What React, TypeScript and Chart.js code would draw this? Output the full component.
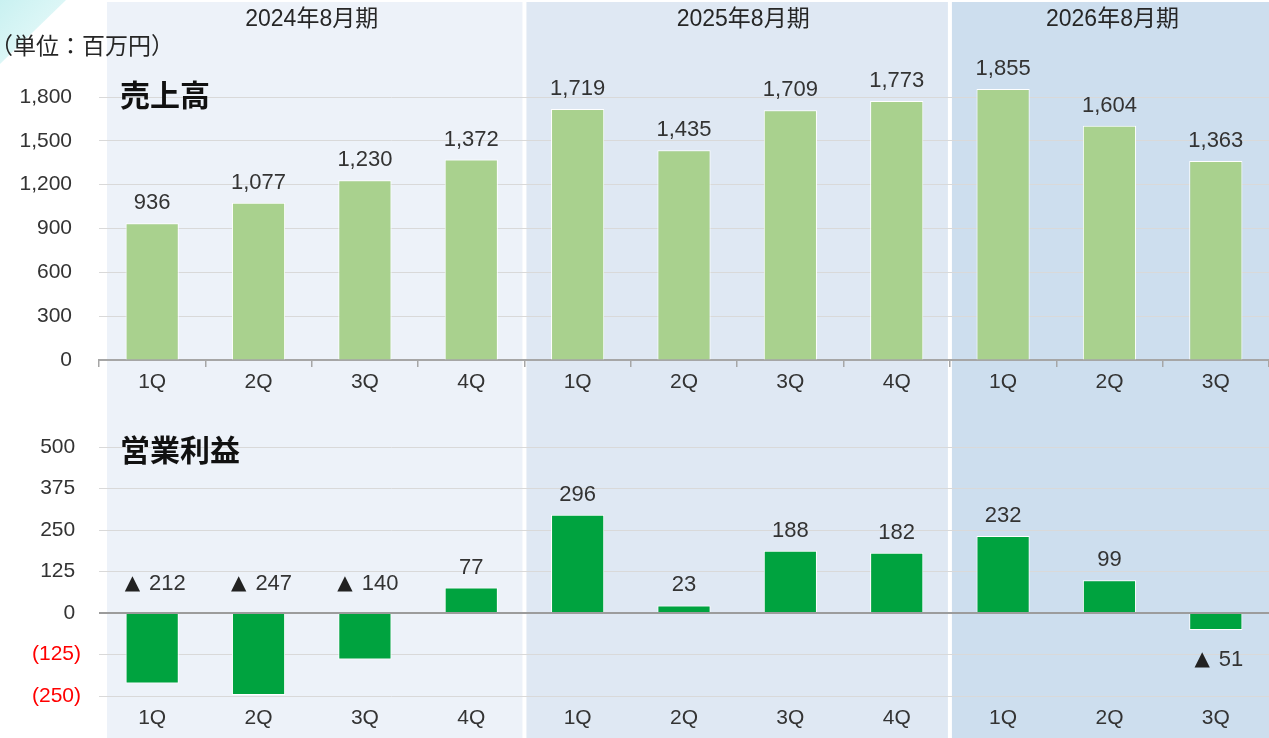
import React, { useEffect, useRef } from 'react';
import { Chart, registerables } from 'chart.js';
Chart.register(...registerables);

// ---- data ----
const categories = ['1Q', '2Q', '3Q', '4Q', '1Q', '2Q', '3Q', '4Q', '1Q', '2Q', '3Q'];
const fiscalYears = ['2024年8月期', '2025年8月期', '2026年8月期'];
const quartersPerYear = [4, 4, 3];
const sales = [936, 1077, 1230, 1372, 1719, 1435, 1709, 1773, 1855, 1604, 1363];
const operatingProfit = [-212, -247, -140, 77, 296, 23, 188, 182, 232, 99, -51];
const salesTicks = [0, 300, 600, 900, 1200, 1500, 1800];
const profitTicks = [-250, -125, 0, 125, 250, 375, 500];
const salesTitle = '売上高';
const profitTitle = '営業利益';
const unitLabel = '（単位：百万円）';
const negativeMark = '▲';

// ---- style ----
const FONT = "'Liberation Sans', 'Noto Sans CJK JP', sans-serif";
const CJK_FONT = "'Noto Sans CJK JP', 'Liberation Sans', sans-serif";
const TEXT = '#333333';
const bandColors = ['#EDF2F9', '#DFE8F3', '#CDDEEE'];
const GRID = '#D9D9D9';
const AXIS = '#A6A6A6';

function edgeFn(chart: any) {
  const x = chart.scales.x;
  const step = x.getPixelForValue(1) - x.getPixelForValue(0);
  return (i: number) => x.getPixelForValue(i) - step / 2;
}

function bandsPlugin(isTop: boolean) {
  return {
    id: 'bands' + (isTop ? 'Top' : 'Bottom'),
    beforeDraw(chart: any) {
      const ctx = chart.ctx;
      const edge = edgeFn(chart);
      const top = isTop ? 2 : 0;
      let start = 0;
      ctx.save();
      if (isTop) {
        const g = ctx.createLinearGradient(0, 0, 50, 50);
        g.addColorStop(0, '#C9F1F1');
        g.addColorStop(1, '#E6F9F9');
        ctx.fillStyle = g;
        ctx.beginPath();
        ctx.moveTo(0, 0);
        ctx.lineTo(66, 0);
        ctx.lineTo(0, 64);
        ctx.closePath();
        ctx.fill();
      }
      quartersPerYear.forEach((n, j) => {
        const end = start + n;
        const l = edge(start) + (j === 0 ? 8 : 2);
        const r = j === quartersPerYear.length - 1 ? chart.width : edge(end) - 2;
        ctx.fillStyle = bandColors[j];
        ctx.fillRect(l, top, r - l, chart.height - top);
        start = end;
      });
      ctx.restore();
    },
  };
}

function textPlugin(isTop: boolean) {
  return {
    id: 'texts' + (isTop ? 'Top' : 'Bottom'),
    afterDraw(chart: any) {
      const ctx = chart.ctx;
      const edge = edgeFn(chart);
      ctx.save();
      ctx.fillStyle = '#111111';
      ctx.textBaseline = 'middle';
      ctx.textAlign = 'left';
      ctx.font = `bold 30px ${CJK_FONT}`;
      ctx.fillText(isTop ? salesTitle : profitTitle, chart.chartArea.left + 21, isTop ? 95 : 50);
      if (isTop) {
        ctx.fillStyle = '#262626';
        ctx.font = `23px ${FONT}`;
        ctx.textAlign = 'center';
        let start = 0;
        quartersPerYear.forEach((n, j) => {
          const end = start + n;
          ctx.fillText(fiscalYears[j], (edge(start) + edge(end)) / 2 + (j === 1 ? 6 : j === 2 ? 3 : 0), 20);
          start = end;
        });
        ctx.textAlign = 'left';
        ctx.font = `23px ${CJK_FONT}`;
        ctx.fillText(unitLabel, -10, 45);
      }
      ctx.restore();
    },
  };
}

function drawNegative(ctx: any, value: number, cx: number, cy: number) {
  const num = Math.abs(value).toLocaleString('en-US');
  ctx.font = "20px 'DejaVu Sans', sans-serif";
  const wT = ctx.measureText(negativeMark).width;
  ctx.font = `22px ${FONT}`;
  const wN = ctx.measureText(num).width;
  const gap = 9;
  const total = wT + gap + wN;
  let x = cx + 3 - total / 2;
  ctx.textAlign = 'left';
  ctx.font = "20px 'DejaVu Sans', sans-serif";
  ctx.fillStyle = '#222222';
  ctx.fillText(negativeMark, x, cy);
  x += wT + gap;
  ctx.font = `22px ${FONT}`;
  ctx.fillStyle = TEXT;
  ctx.fillText(num, x, cy);
  ctx.textAlign = 'center';
}

function labelsPlugin(isTop: boolean) {
  return {
    id: 'vlabels' + (isTop ? 'Top' : 'Bottom'),
    afterDatasetsDraw(chart: any) {
      const ctx = chart.ctx;
      const meta = chart.getDatasetMeta(0);
      const values: number[] = chart.data.datasets[0].data;
      const zero = chart.scales.y.getPixelForValue(0);
      ctx.save();
      ctx.fillStyle = TEXT;
      ctx.font = `22px ${FONT}`;
      ctx.textAlign = 'center';
      ctx.textBaseline = 'middle';
      meta.data.forEach((bar: any, i: number) => {
        const v = values[i];
        if (v >= 0) {
          ctx.fillStyle = TEXT;
          ctx.font = `22px ${FONT}`;
          ctx.fillText(v.toLocaleString('en-US'), bar.x, bar.y - 20);
        } else if (Math.abs(v) >= 100) {
          drawNegative(ctx, v, bar.x, zero - 29);
        } else {
          drawNegative(ctx, v, bar.x, bar.y + 30);
        }
      });
      ctx.restore();
    },
  };
}

function makeConfig(isTop: boolean): any {
  const data = isTop ? sales : operatingProfit;
  const ticks = isTop ? salesTicks : profitTicks;
  return {
    type: 'bar',
    data: {
      labels: categories,
      datasets: [
        {
          data,
          backgroundColor: isTop ? '#A9D18E' : '#00A33F',
          borderColor: '#FFFFFF',
          borderWidth: 1,
          categoryPercentage: 1,
          barPercentage: 0.5,
        },
      ],
    },
    options: {
      responsive: false,
      animation: false,
      devicePixelRatio: 1,
      layout: { padding: { top: isTop ? 24 : 14, left: 0, right: 0, bottom: 0 } },
      plugins: { legend: { display: false }, tooltip: { enabled: false } },
      scales: {
        x: {
          offset: true,
          afterFit(scale: any) {
            scale.height = isTop ? 40 : 42;
            scale.paddingLeft = 0;
            scale.paddingRight = 0;
          },
          grid: {
            offset: true,
            drawOnChartArea: false,
            drawTicks: isTop,
            tickLength: 7,
            color: AXIS,
            lineWidth: 1.5,
          },
          border: { display: isTop, color: AXIS, width: 2 },
          ticks: {
            color: TEXT,
            font: { family: FONT, size: 21 },
            padding: isTop ? 3 : 10,
            maxRotation: 0,
            autoSkip: false,
          },
        },
        y: {
          min: isTop ? 0 : -250,
          max: isTop ? 2300 : 600,
          afterBuildTicks(scale: any) {
            scale.ticks = ticks.map((v) => ({ value: v }));
          },
          afterFit(scale: any) {
            scale.width = 99;
            scale.paddingTop = 0;
            scale.paddingBottom = 0;
          },
          border: { display: false },
          grid: {
            drawTicks: false,
            color: (c: any) => (!isTop && c.tick && c.tick.value === 0 ? '#9C9C9C' : GRID),
            lineWidth: (c: any) => (!isTop && c.tick && c.tick.value === 0 ? 2 : 1),
          },
          ticks: {
            font: { family: FONT, size: 21 },
            padding: isTop ? 27 : 18,
            color: (c: any) => (c.tick && c.tick.value < 0 ? '#FF0000' : TEXT),
            callback: (v: any) => {
              const n = Number(v);
              if (isTop) return n.toLocaleString('en-US');
              return n < 0 ? `(${Math.abs(n)})` : `${n} `;
            },
          },
        },
      },
    },
    plugins: [bandsPlugin(isTop), labelsPlugin(isTop), textPlugin(isTop)],
  };
}

function ChartCanvas({ isTop, height }: { isTop: boolean; height: number }) {
  const ref = useRef<HTMLCanvasElement>(null);
  useEffect(() => {
    if (!ref.current) return;
    const chart = new Chart(ref.current, makeConfig(isTop));
    return () => chart.destroy();
  }, [isTop]);
  return <canvas ref={ref} width={1269} height={height} style={{ display: 'block', width: 1269, height }} />;
}

export default function App() {
  return (
    <div style={{ position: 'fixed', left: 0, top: 0, width: 1269, height: 738, background: '#FFFFFF', overflow: 'hidden' }}>
      <ChartCanvas isTop={true} height={400} />
      <ChartCanvas isTop={false} height={338} />
    </div>
  );
}
